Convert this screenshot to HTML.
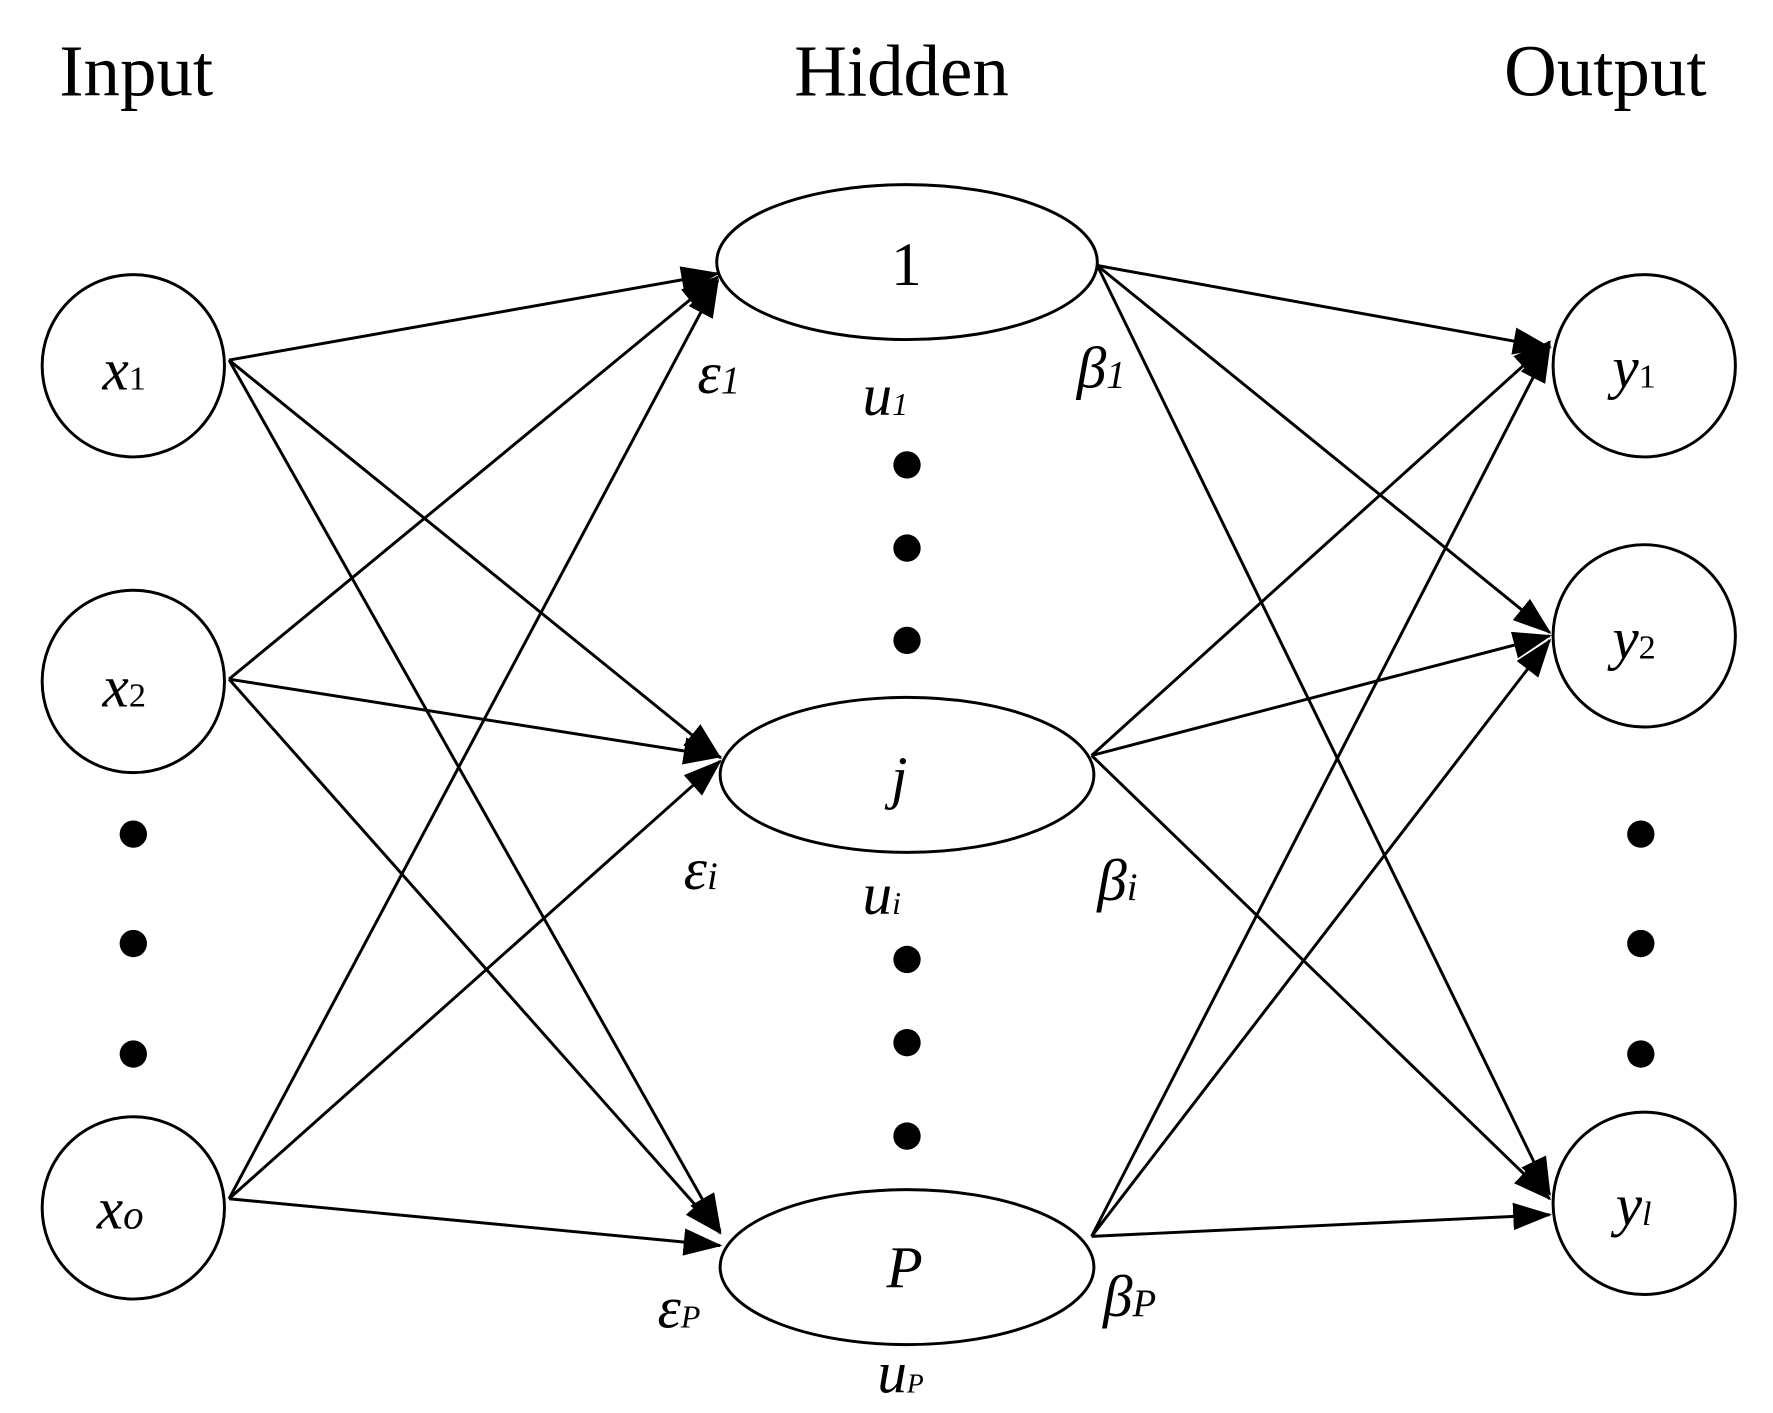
<!DOCTYPE html>
<html><head><meta charset="utf-8"><style>html,body{margin:0;padding:0;background:#fff}svg{display:block}</style></head>
<body>
<svg width="1773" height="1413" viewBox="0 0 1556 1240" preserveAspectRatio="none" xmlns="http://www.w3.org/2000/svg" font-family="Liberation Serif, serif">
<defs><marker id="a" markerWidth="34" markerHeight="24" refX="32" refY="12" orient="auto" markerUnits="userSpaceOnUse"><path d="M0,0 L34,12 L0,24 Z" fill="#000"/></marker></defs>
<rect width="1556" height="1240" fill="#fff"/>
<g font-size="64" fill="#000">
<text x="52" y="84">Input</text>
<text x="697" y="84">Hidden</text>
<text x="1320" y="84">Output</text>
</g>
<g stroke="#000" stroke-width="2.6" fill="none" marker-end="url(#a)">
<line x1="201" y1="316" x2="630" y2="240"/>
<line x1="201" y1="316" x2="632" y2="665"/>
<line x1="201" y1="316" x2="632" y2="1080"/>
<line x1="201" y1="596" x2="630" y2="243"/>
<line x1="201" y1="596" x2="632" y2="664"/>
<line x1="201" y1="596" x2="632" y2="1082"/>
<line x1="201" y1="1052" x2="630" y2="246"/>
<line x1="201" y1="1052" x2="632" y2="668"/>
<line x1="201" y1="1052" x2="632" y2="1093"/>
<line x1="963" y1="233" x2="1360" y2="305"/>
<line x1="963" y1="233" x2="1360" y2="555"/>
<line x1="963" y1="233" x2="1360" y2="1048"/>
<line x1="958" y1="663" x2="1360" y2="300"/>
<line x1="958" y1="663" x2="1360" y2="558"/>
<line x1="958" y1="663" x2="1360" y2="1052"/>
<line x1="958" y1="1085" x2="1360" y2="303"/>
<line x1="958" y1="1085" x2="1360" y2="562"/>
<line x1="958" y1="1085" x2="1360" y2="1066"/>
</g>
<g stroke="#000" stroke-width="2.6" fill="#fff">
<circle cx="117" cy="321" r="80"/>
<circle cx="117" cy="598" r="80"/>
<circle cx="117" cy="1060" r="80"/>
<ellipse cx="796" cy="230" rx="167" ry="68"/>
<ellipse cx="796" cy="680" rx="164" ry="68"/>
<ellipse cx="796" cy="1112" rx="164" ry="68"/>
<circle cx="1443" cy="321" r="80"/>
<circle cx="1443" cy="558" r="80"/>
<circle cx="1443" cy="1056" r="80"/>
</g>
<g fill="#000">
<circle cx="117" cy="732" r="12"/><circle cx="117" cy="828" r="12"/><circle cx="117" cy="925" r="12"/>
<circle cx="796" cy="408" r="12"/><circle cx="796" cy="481" r="12"/><circle cx="796" cy="562" r="12"/>
<circle cx="796" cy="842" r="12"/><circle cx="796" cy="915" r="12"/><circle cx="796" cy="997" r="12"/>
<circle cx="1440" cy="732" r="12"/><circle cx="1440" cy="828" r="12"/><circle cx="1440" cy="925" r="12"/>
</g>
<g font-size="52" font-style="italic" fill="#000">
<text x="90" y="342">x<tspan font-size="30" font-style="normal">1</tspan></text>
<text x="90" y="620">x<tspan font-size="30" font-style="normal">2</tspan></text>
<text x="85" y="1078">x<tspan font-size="36">o</tspan></text>
<text x="1415" y="340">y<tspan font-size="30" font-style="normal">1</tspan></text>
<text x="1415" y="578">y<tspan font-size="30" font-style="normal">2</tspan></text>
<text x="1418" y="1075">y<tspan font-size="30">l</tspan></text>
<text x="782" y="250" font-style="normal" font-size="54">1</text>
<text x="782" y="700">j</text>
<text x="778" y="1130">P</text>
<text x="612" y="345">ε<tspan font-size="34">1</tspan></text>
<text x="757" y="364">u<tspan font-size="28">1</tspan></text>
<text x="945" y="340">β<tspan font-size="34">1</tspan></text>
<text x="600" y="780">ε<tspan font-size="34">i</tspan></text>
<text x="757" y="802">u<tspan font-size="28">i</tspan></text>
<text x="963" y="790">β<tspan font-size="34">i</tspan></text>
<text x="577" y="1165">ε<tspan font-size="28">P</tspan></text>
<text x="770" y="1222">u<tspan font-size="24">P</tspan></text>
<text x="968" y="1155">β<tspan font-size="34">P</tspan></text>
</g>
</svg>
</body></html>
